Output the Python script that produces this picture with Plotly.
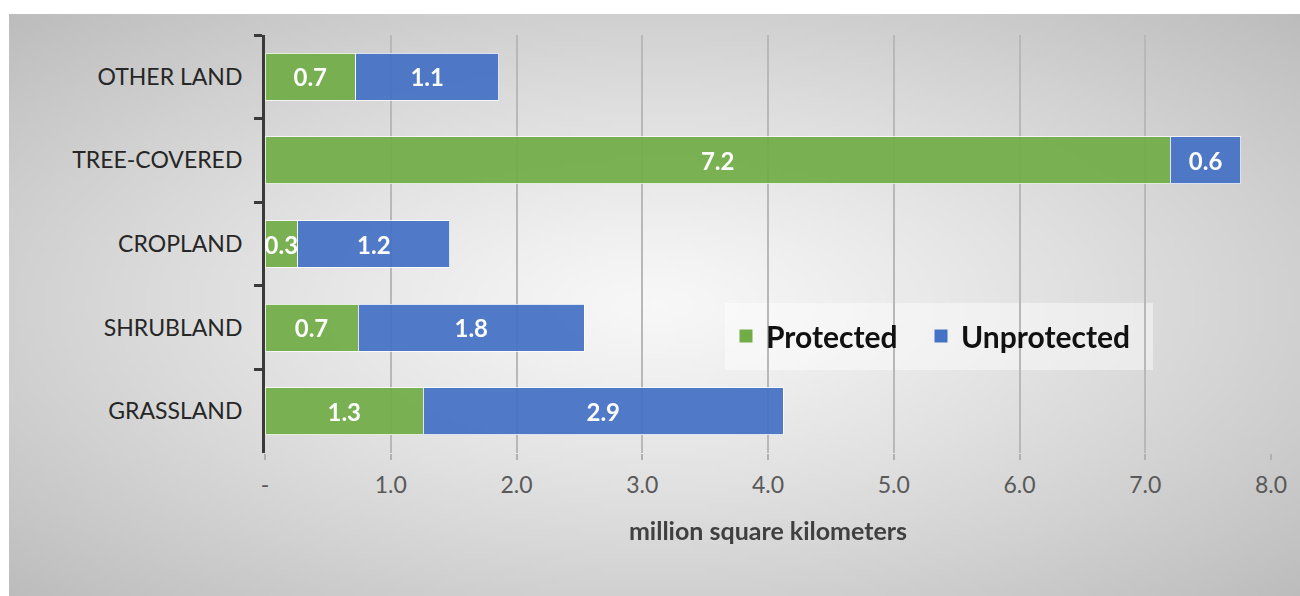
import base64
import struct
import zlib

import plotly.graph_objects as go

# Land cover categories, top to bottom
categories = ["OTHER LAND", "TREE-COVERED", "CROPLAND", "SHRUBLAND", "GRASSLAND"]
# Area in million square kilometers
protected = [0.72, 7.20, 0.26, 0.74, 1.26]
unprotected = [1.14, 0.56, 1.21, 1.80, 2.86]

tick_values = [0, 1, 2, 3, 4, 5, 6, 7, 8]
tick_labels = ["-", "1.0", "2.0", "3.0", "4.0", "5.0", "6.0", "7.0", "8.0"]

GREEN = "#70AD47"
BLUE = "#4472C4"
FONT = "Lato, 'Open Sans', sans-serif"


def radial_gradient_png(w, h, inner=247, outer=188, power=1.2):
    """Small grayscale PNG with a soft radial gradient (light centre, gray rim)."""
    raw = bytearray()
    for j in range(h):
        raw.append(0)
        dy = (j + 0.5) / h * 2 - 1
        for i in range(w):
            dx = (i + 0.5) / w * 2 - 1
            d = min(1.0, ((dx * dx + dy * dy) / 2) ** 0.5)
            raw.append(int(round(inner - (inner - outer) * d ** power)))

    def chunk(tag, data):
        body = tag + data
        return struct.pack(">I", len(data)) + body + struct.pack(">I", zlib.crc32(body) & 0xFFFFFFFF)

    png = b"\x89PNG\r\n\x1a\n"
    png += chunk(b"IHDR", struct.pack(">IIBBBBB", w, h, 8, 0, 0, 0, 0))
    png += chunk(b"IDAT", zlib.compress(bytes(raw), 9))
    png += chunk(b"IEND", b"")
    return "data:image/png;base64," + base64.b64encode(png).decode()


bar_text_font = dict(family=FONT, size=24, color="white", weight="bold")

fig = go.Figure()
for name, values, color in [("Protected", protected, GREEN), ("Unprotected", unprotected, BLUE)]:
    fig.add_trace(go.Bar(
        y=categories, x=values, name=name, orientation="h",
        marker=dict(color=color, line=dict(color="rgba(255,255,255,0.8)", width=1)),
        opacity=0.93,
        texttemplate="%{x:.1f}", textposition="inside", insidetextanchor="middle",
        textangle=0, constraintext="none",
        textfont=bar_text_font,
        hoverinfo="skip",
        showlegend=False,
    ))

# Legend keys: square swatches, one legend box per series
fig.add_trace(go.Scatter(
    x=[None], y=[None], mode="markers", name="Protected",
    marker=dict(symbol="square", size=13, color=GREEN), legend="legend",
))
fig.add_trace(go.Scatter(
    x=[None], y=[None], mode="markers", name="Unprotected",
    marker=dict(symbol="square", size=13, color=BLUE), legend="legend2",
))

# Plot area spans 265..1271 px horizontally and 35..453 px vertically
L, R, T, B = 265, 29, 35, 143
W, H = 1300, 596
pw, ph = W - L - R, H - T - B


def px_x(px):
    return (px - L) / pw


def px_y(py):
    return (H - B - py) / ph


fig.add_layout_image(
    source=radial_gradient_png(260, 116),
    xref="paper", yref="paper",
    x=px_x(9), y=px_y(14), sizex=(W - 9) / pw, sizey=(H - 14) / ph,
    xanchor="left", yanchor="top", sizing="stretch", layer="below",
)

# Lighter panel behind the legend
fig.add_shape(
    type="rect", xref="paper", yref="paper",
    x0=px_x(725), x1=px_x(1153), y0=px_y(370), y1=px_y(303),
    fillcolor="rgba(255,255,255,0.45)", line=dict(width=0), layer="below",
)

legend_font = dict(family=FONT, size=30, color="#111111", weight="bold")

fig.update_layout(
    width=W, height=H,
    margin=dict(l=L, r=R, t=T, b=B),
    paper_bgcolor="white",
    plot_bgcolor="rgba(0,0,0,0)",
    barmode="stack",
    bargap=0.44,
    uniformtext=dict(minsize=24, mode="show"),
    font=dict(family=FONT),
    showlegend=True,
    legend=dict(
        orientation="h",
        x=px_x(726), y=px_y(336), xanchor="left", yanchor="middle",
        bgcolor="rgba(0,0,0,0)", font=legend_font,
    ),
    legend2=dict(
        orientation="h",
        x=px_x(921), y=px_y(336), xanchor="left", yanchor="middle",
        bgcolor="rgba(0,0,0,0)", font=legend_font,
    ),
    xaxis=dict(
        range=[0, 8],
        tickvals=tick_values, ticktext=tick_labels,
        showgrid=True, gridcolor="#b8b8b8", gridwidth=1.5,
        zeroline=False,
        ticks="outside", ticklen=6, tickcolor="#b0b0b0", tickwidth=1.5,
        tickfont=dict(family=FONT, size=23, color="#595959"),
        ticklabelstandoff=5,
        title=dict(text="million square kilometers",
                   font=dict(family=FONT, size=25, color="#404040", weight="bold"),
                   standoff=25),
        fixedrange=True,
    ),
    yaxis=dict(
        categoryorder="array", categoryarray=categories,
        autorange="reversed",
        showline=True, linecolor="#3a3a3a", linewidth=3,
        ticks="outside", tickson="boundaries", ticklen=8, tickwidth=3, tickcolor="#3a3a3a",
        tickfont=dict(family=FONT, size=23, color="#262626"),
        ticklabelstandoff=15,
        showgrid=False,
        fixedrange=True,
    ),
)

fig.write_html("out.html")
